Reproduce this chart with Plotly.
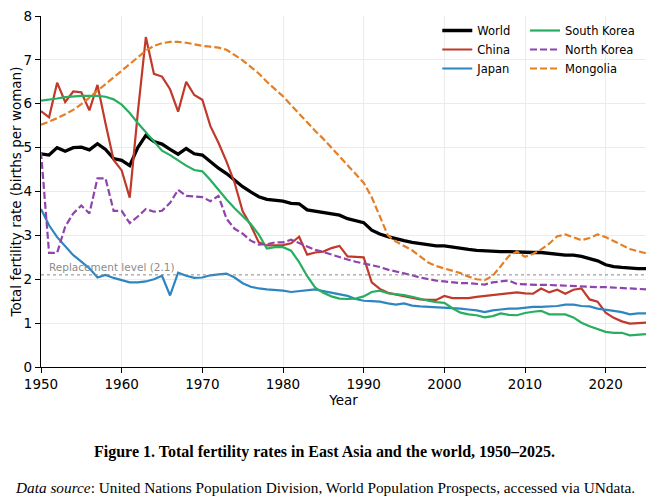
import plotly.graph_objects as go

years = list(range(1950, 2026))

world = [4.86, 4.83, 5.00, 4.92, 5.00, 5.01, 4.95, 5.09, 4.96, 4.75,
         4.71, 4.59, 5.00, 5.28, 5.14, 5.08, 4.96, 4.85, 4.98, 4.86,
         4.83, 4.68, 4.53, 4.41, 4.26, 4.11, 3.99, 3.88, 3.82, 3.80,
         3.78, 3.73, 3.72, 3.58, 3.55, 3.51, 3.49, 3.46, 3.38, 3.34,
         3.29, 3.12, 3.03, 2.97, 2.92, 2.88, 2.84, 2.81, 2.78, 2.76,
         2.76, 2.73, 2.70, 2.68, 2.66, 2.65, 2.63, 2.63, 2.63, 2.62,
         2.62, 2.61, 2.61, 2.59, 2.57, 2.55, 2.55, 2.52, 2.47, 2.42,
         2.33, 2.29, 2.27, 2.25, 2.24, 2.24]

china = [5.83, 5.69, 6.48, 6.04, 6.28, 6.26, 5.85, 6.43, 5.55, 4.72,
         4.48, 3.86, 5.80, 7.52, 6.68, 6.62, 6.33, 5.82, 6.50, 6.20,
         6.09, 5.49, 5.11, 4.68, 4.20, 3.55, 3.23, 2.84, 2.77, 2.78,
         2.78, 2.82, 2.97, 2.56, 2.61, 2.63, 2.71, 2.76, 2.52, 2.51,
         2.50, 1.93, 1.78, 1.69, 1.65, 1.61, 1.57, 1.54, 1.53, 1.53,
         1.62, 1.57, 1.57, 1.57, 1.60, 1.62, 1.64, 1.66, 1.68, 1.70,
         1.68, 1.67, 1.79, 1.70, 1.76, 1.67, 1.76, 1.79, 1.54, 1.49,
         1.24, 1.12, 1.04, 0.99, 1.00, 1.01]

japan = [3.60, 3.23, 2.96, 2.75, 2.55, 2.40, 2.25, 2.04, 2.10, 2.03,
         1.98, 1.93, 1.93, 1.95, 2.00, 2.08, 1.63, 2.15, 2.08, 2.03,
         2.04, 2.09, 2.11, 2.13, 2.04, 1.91, 1.83, 1.79, 1.77, 1.76,
         1.74, 1.71, 1.73, 1.76, 1.77, 1.73, 1.69, 1.66, 1.62, 1.55,
         1.51, 1.50, 1.49, 1.45, 1.42, 1.45, 1.40, 1.38, 1.37, 1.37,
         1.35, 1.35, 1.33, 1.31, 1.29, 1.25, 1.29, 1.31, 1.33, 1.33,
         1.35, 1.37, 1.37, 1.38, 1.39, 1.42, 1.42, 1.39, 1.38, 1.33,
         1.31, 1.28, 1.25, 1.20, 1.22, 1.22]

south_korea = [6.07, 6.09, 6.12, 6.15, 6.17, 6.18, 6.18, 6.18, 6.16, 6.10,
               5.98, 5.79, 5.56, 5.35, 5.12, 4.93, 4.83, 4.71, 4.59, 4.49,
               4.46, 4.26, 4.03, 3.82, 3.62, 3.43, 3.26, 3.02, 2.70, 2.73,
               2.73, 2.65, 2.39, 2.07, 1.81, 1.69, 1.61, 1.56, 1.55, 1.56,
               1.61, 1.71, 1.74, 1.68, 1.66, 1.64, 1.60, 1.55, 1.51, 1.48,
               1.46, 1.34, 1.24, 1.20, 1.18, 1.13, 1.16, 1.22, 1.19, 1.18,
               1.23, 1.26, 1.28, 1.20, 1.20, 1.20, 1.13, 1.01, 0.93, 0.86,
               0.80, 0.78, 0.78, 0.72, 0.74, 0.75]

north_korea = [4.90, 2.60, 2.60, 3.20, 3.50, 3.68, 3.50, 4.30, 4.30, 3.56,
               3.56, 3.28, 3.43, 3.60, 3.54, 3.56, 3.74, 4.04, 3.90, 3.88,
               3.87, 3.78, 3.90, 3.38, 3.15, 3.04, 2.88, 2.79, 2.80, 2.84,
               2.84, 2.90, 2.82, 2.75, 2.67, 2.62, 2.56, 2.51, 2.45, 2.40,
               2.36, 2.32, 2.28, 2.22, 2.18, 2.13, 2.09, 2.04, 2.00, 1.97,
               1.95, 1.93, 1.91, 1.91, 1.89, 1.88, 1.93, 1.95, 1.97, 1.89,
               1.88, 1.87, 1.87, 1.87, 1.86, 1.85, 1.85, 1.84, 1.83, 1.82,
               1.82, 1.81, 1.80, 1.79, 1.78, 1.77]

mongolia = [5.52, 5.59, 5.67, 5.76, 5.86, 5.99, 6.14, 6.30, 6.46, 6.61,
            6.76, 6.91, 7.06, 7.21, 7.32, 7.38, 7.41, 7.41, 7.39, 7.35,
            7.32, 7.30, 7.28, 7.23, 7.12, 6.99, 6.84, 6.69, 6.50, 6.33,
            6.17, 5.97, 5.77, 5.58, 5.38, 5.20, 5.00, 4.80, 4.62, 4.42,
            4.20, 3.87, 3.45, 3.00, 2.86, 2.76, 2.66, 2.52, 2.38, 2.30,
            2.25, 2.20, 2.14, 2.06, 2.00, 1.98, 2.08, 2.30, 2.53, 2.63,
            2.51, 2.58, 2.68, 2.81, 2.98, 3.02, 2.96, 2.89, 2.94, 3.02,
            2.96, 2.87, 2.77, 2.69, 2.64, 2.59]

replacement = 2.1

FONT = "DejaVu Sans"
SERIF = "Liberation Serif"

# name, values, colour, width, dash, legend
series = [
    ("World", world, "#000000", 3.3, "solid", "legend"),
    ("China", china, "#c0392b", 2.2, "solid", "legend"),
    ("Japan", japan, "#2e86c1", 2.2, "solid", "legend"),
    ("South Korea", south_korea, "#27ae60", 2.2, "solid", "legend2"),
    ("North Korea", north_korea, "#8e44ad", 2.2, "7px,3px", "legend2"),
    ("Mongolia", mongolia, "#e67e22", 2.2, "7px,3px", "legend2"),
]

fig = go.Figure()
for name, vals, col, w, dash, leg in series:
    fig.add_trace(go.Scatter(
        x=years, y=vals, name=name, mode="lines",
        line=dict(color=col, width=w, dash=dash),
        legend=leg,
    ))

fig.add_hline(y=replacement, line=dict(color="#888888", width=1, dash="dot"))
fig.add_annotation(
    x=1950.8, y=replacement, xref="x", yref="y",
    text="Replacement level (2.1)", showarrow=False,
    xanchor="left", yanchor="bottom",
    font=dict(family=FONT, size=10.5, color="#8c8c8c"),
)

fig.add_annotation(
    x=0.469, y=-0.242, xref="paper", yref="paper",
    text="<b>Figure 1. Total fertility rates in East Asia and the world, 1950–2025.</b>",
    showarrow=False, xanchor="center", yanchor="middle",
    font=dict(family=SERIF, size=16, color="black"),
)
fig.add_annotation(
    x=0.469, y=-0.343, xref="paper", yref="paper",
    text="<i>Data source</i>: United Nations Population Division, World Population Prospects, accessed via UNdata.",
    showarrow=False, xanchor="center", yanchor="middle",
    font=dict(family=SERIF, size=15.3, color="black"),
)

legend_style = dict(
    bgcolor="rgba(255,255,255,0)", borderwidth=0,
    font=dict(family=FONT, size=11.5, color="black"),
    xanchor="left", yanchor="top", y=1.0,
)

# the page body adds an 8px margin, so the figure is 8px smaller than the window
fig.update_layout(
    width=649, height=488,
    autosize=False,
    margin=dict(l=33, r=11, t=8, b=129),
    paper_bgcolor="white",
    plot_bgcolor="white",
    font=dict(family=FONT, size=13, color="black"),
    legend=dict(x=0.655, **legend_style),
    legend2=dict(x=0.80, **legend_style),
    xaxis=dict(
        range=[1950, 2025], dtick=10, tick0=1950,
        showgrid=True, gridcolor="#ebebeb", gridwidth=1,
        showline=True, linecolor="black", linewidth=1.2,
        ticks="outside", ticklen=5, tickcolor="black",
        tickfont=dict(size=13.5), ticklabeloverflow="allow",
        title=dict(text="Year", font=dict(size=13.5), standoff=4),
        zeroline=False, automargin=False,
    ),
    yaxis=dict(
        range=[0, 8], dtick=1,
        showgrid=True, gridcolor="#ebebeb", gridwidth=1,
        showline=True, linecolor="black", linewidth=1.2,
        ticks="outside", ticklen=5, tickcolor="black",
        tickfont=dict(size=13.5), ticklabeloverflow="allow",
        title=dict(text="Total fertility rate (births per woman)", font=dict(size=13.5), standoff=6),
        zeroline=False, automargin=False,
    ),
)

fig.write_html("out.html")
